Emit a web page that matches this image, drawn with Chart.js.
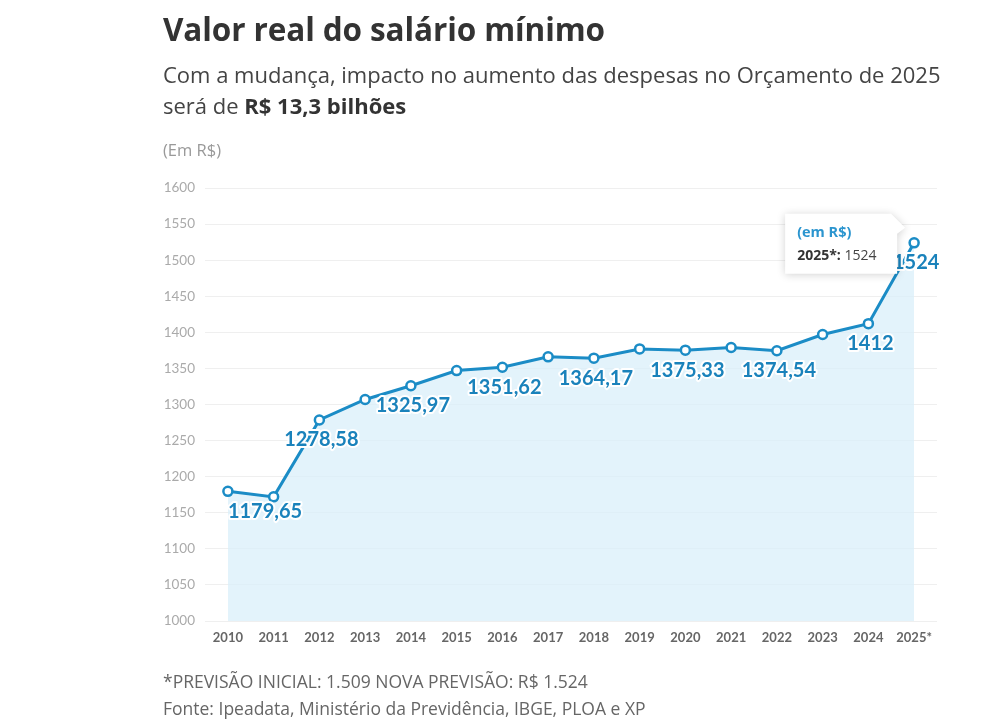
<!DOCTYPE html>
<html lang="pt-BR">
<head>
<meta charset="utf-8">
<title>Valor real do salário mínimo</title>
<script src="https://cdn.jsdelivr.net/npm/chart.js@4.4.1/dist/chart.umd.min.js"></script>
<style>
  body { margin: 0; background: #fff; font-family: "Open Sans", Lato, sans-serif; }
  #pagina { position: relative; width: 1000px; height: 725px; overflow: hidden; }
  #grafico { position: absolute; left: 0; top: 0; width: 1000px; height: 725px; }
  .texto { position: absolute; left: 163px; margin: 0; white-space: nowrap; }
  h1.texto { top: 7px; font-size: 31.5px; font-weight: 700; color: #333; letter-spacing: -0.1px; }
  .sub { top: 59px; font-size: 22px; line-height: 31px; color: #444; }
  .sub b { color: #333; }
  .unidade { top: 138px; font-size: 16.5px; color: #999; }
  .nota { top: 668px; font-size: 17.5px; line-height: 27px; color: #666; }
</style>
</head>
<body>
<div id="pagina">
  <div id="grafico"><canvas id="canvasSalario"></canvas></div>
  <h1 class="texto">Valor real do salário mínimo</h1>
  <div class="texto sub">Com a mudança, impacto no aumento das despesas no Orçamento de 2025<br>será de <b>R$ 13,3 bilhões</b></div>
  <div class="texto unidade">(Em R$)</div>
  <div class="texto nota">*PREVISÃO INICIAL: 1.509 NOVA PREVISÃO: R$ 1.524<br>Fonte: Ipeadata, Ministério da Previdência, IBGE, PLOA e XP</div>
</div>
<script>
// Dados do gráfico
const anos = ['2010', '2011', '2012', '2013', '2014', '2015', '2016', '2017',
              '2018', '2019', '2020', '2021', '2022', '2023', '2024', '2025*'];
const salarioReal = [1179.65, 1172, 1278.58, 1307, 1325.97, 1347, 1351.62, 1366,
                     1364.17, 1377, 1375.33, 1379, 1374.54, 1397, 1412, 1524];
const indicesComRotulo = [0, 2, 4, 6, 8, 10, 12, 14, 15];
const ticksY = [1000, 1050, 1100, 1150, 1200, 1250, 1300, 1350, 1400, 1450, 1500, 1550, 1600];

const azul = '#1b8cc6';
const azulRotulo = '#1a82bb';

// Rótulos dos valores abaixo dos pontos
const rotulos = {
    id: 'rotulos',
    afterDatasetsDraw(chart) {
        const ctx = chart.ctx;
        const meta = chart.getDatasetMeta(0);
        ctx.save();
        ctx.font = 'bold 20px Lato';
        ctx.textBaseline = 'middle';
        ctx.lineJoin = 'round';
        indicesComRotulo.forEach(i => {
            const p = meta.data[i];
            const txt = String(salarioReal[i]).replace('.', ',');
            ctx.textAlign = i === 0 ? 'left' : 'center';
            const x = i === 0 ? p.x : p.x + 2;
            const y = p.y + 20;
            ctx.strokeStyle = '#fff';
            ctx.lineWidth = 4;
            ctx.strokeText(txt, x, y);
            ctx.fillStyle = azulRotulo;
            ctx.fillText(txt, x, y);
        });
        ctx.restore();
    }
};

// Caixa de informação fixa sobre o último ponto
const caixaInfo = {
    id: 'caixaInfo',
    afterDraw(chart) {
        const ctx = chart.ctx;
        const meta = chart.getDatasetMeta(0);
        const ult = anos.length - 1;
        const p = meta.data[ult];
        const w = 112, h = 60;
        const x = p.x - 129, y = p.y - 29;
        ctx.save();
        ctx.shadowColor = 'rgba(0,0,0,0.18)';
        ctx.shadowBlur = 8;
        ctx.shadowOffsetY = 1;
        ctx.fillStyle = '#fff';
        ctx.beginPath();
        ctx.moveTo(x, y);
        ctx.lineTo(x + w - 6, y);
        ctx.lineTo(x + w + 8, y + 14);
        ctx.lineTo(x + w, y + 20);
        ctx.lineTo(x + w, y + h);
        ctx.lineTo(x, y + h);
        ctx.closePath();
        ctx.fill();
        ctx.shadowColor = 'transparent';
        ctx.textBaseline = 'middle';
        ctx.textAlign = 'left';
        ctx.font = 'bold 14.5px "Open Sans"';
        ctx.fillStyle = '#2b95cf';
        ctx.fillText('(em R$)', x + 12, y + 19);
        ctx.font = 'bold 14px "Open Sans"';
        ctx.fillStyle = '#333';
        const rot = anos[ult] + ':';
        ctx.fillText(rot, x + 12, y + 42);
        const wRot = ctx.measureText(rot).width;
        ctx.font = '14px "Open Sans"';
        ctx.fillStyle = '#444';
        ctx.fillText(' ' + salarioReal[ult], x + 12 + wRot, y + 42);
        ctx.restore();
    }
};

const ctx = document.getElementById('canvasSalario').getContext('2d');
const grafico = new Chart(ctx, {
    type: 'line',
    data: {
        labels: anos,
        datasets: [{
            label: 'Valor real do salário mínimo',
            data: salarioReal,
            borderColor: azul,
            borderWidth: 3,
            backgroundColor: 'rgba(218, 239, 250, 0.75)',
            fill: 'start',
            tension: 0,
            pointRadius: 4.5,
            pointBorderWidth: 2.5,
            pointBackgroundColor: '#fff',
            pointBorderColor: azul
        }]
    },
    options: {
        responsive: true,
        maintainAspectRatio: false,
        animation: false,
        layout: { padding: { left: 150, right: 63, top: 188, bottom: 74 } },
        plugins: {
            legend: { display: false },
            tooltip: { enabled: false }
        },
        scales: {
            x: {
                offset: true,
                grid: { display: false, drawTicks: false },
                border: { display: false },
                ticks: {
                    color: '#666',
                    font: { family: 'Lato', size: 13, weight: 'bold' },
                    padding: 9,
                    maxRotation: 0,
                    autoSkip: false
                },
                afterFit: scale => { scale.height = 30; }
            },
            y: {
                min: 1000,
                max: 1600,
                afterBuildTicks: scale => { scale.ticks = ticksY.map(v => ({ value: v })); },
                grid: { color: '#efefef', drawTicks: false },
                border: { display: false },
                ticks: {
                    color: '#aaa',
                    font: { family: 'Lato', size: 13.5 },
                    padding: 10,
                    callback: v => String(v)
                },
                afterFit: scale => { scale.width = 55; }
            }
        }
    },
    plugins: [rotulos, caixaInfo]
});
</script>
</body>
</html>
